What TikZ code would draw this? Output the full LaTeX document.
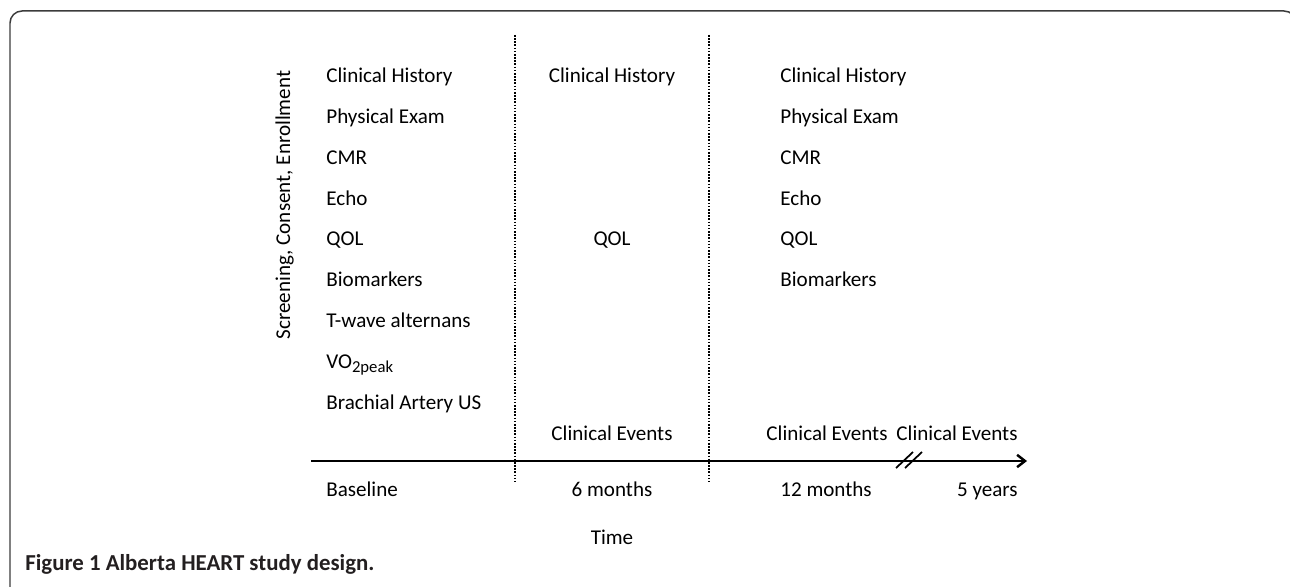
\documentclass[tikz,border=0pt]{standalone}
\usepackage{fontspec}
\setmainfont{Carlito}
\usepackage{xcolor}
\usetikzlibrary{arrows.meta}

\definecolor{framegray}{RGB}{60,60,60}
\definecolor{captiongray}{RGB}{35,31,32}

\begin{document}
\begin{tikzpicture}[x=0.02cm, y=-0.02cm, >={Straight Barb[length=4.5pt,width=7pt]}]
  \tikzset{
    entry/.style={anchor=base west, inner sep=0pt, font=\fontsize{12}{14}\selectfont},
    centry/.style={anchor=base, inner sep=0pt, font=\fontsize{12}{14}\selectfont},
    timeline/.style={line width=1.4pt},
    visit/.style={line width=1.2pt, dash pattern=on 0.9pt off 0.9pt},
  }
  \useasboundingbox (0,0) rectangle (1290,587);

  % Key positions
  \def\rowgap{40.75}
  \def\rowtop{83}
  \def\axisy{461}

  % Frame
  \draw[framegray, line width=0.85pt, rounded corners=12*0.02cm]
    (10,600) -- (10,11) -- (1296,11) -- (1296,600);

  % Visit separators
  \coordinate (sepa-top) at (515,35);
  \coordinate (sepa-bot) at (515,482);
  \coordinate (sepb-top) at (709,35);
  \coordinate (sepb-bot) at (709,482);
  \draw[visit] (sepa-top) -- (sepa-bot);
  \draw[visit] (sepb-top) -- (sepb-bot);

  % Time axis
  \coordinate (axis-start) at (311,\axisy);
  \coordinate (axis-end) at (1027,\axisy);
  \draw[timeline, ->] (axis-start) -- (axis-end);

  % Axis break
  \coordinate (brka-lo) at (896,468);
  \coordinate (brka-hi) at (913,452);
  \coordinate (brkb-lo) at (905,468);
  \coordinate (brkb-hi) at (922,452);
  \draw[line width=1pt] (brka-lo) -- (brka-hi);
  \draw[line width=1pt] (brkb-lo) -- (brkb-hi);

  % Rotated label
  \node[centry, rotate=90] (enrol) at (290,205) {Screening, Consent, Enrollment};

  % Baseline visit
  \foreach \txt [count=\i] in {Clinical History, Physical Exam, CMR, Echo, QOL,
      Biomarkers, T-wave alternans,
      {VO\raisebox{-0.4ex}{\fontsize{9.5}{10}\selectfont 2peak}}, Brachial Artery US}
    \node[entry] (base-\i) at (326, {\rowtop+\rowgap*(\i-1)}) {\txt};

  % 6 month visit
  \node[centry] (six-hist) at (612,\rowtop) {Clinical History};
  \node[centry] (six-qol) at (612,{\rowtop+4*\rowgap}) {QOL};
  \node[centry] (six-events) at (612,440) {Clinical Events};

  % 12 month visit
  \foreach \txt [count=\i] in {Clinical History, Physical Exam, CMR, Echo, QOL, Biomarkers}
    \node[entry] (twelve-\i) at (780, {\rowtop+\rowgap*(\i-1)}) {\txt};
  \node[centry] (twelve-events) at (827,440) {Clinical Events};

  % 5 year follow-up
  \node[centry] (five-events) at (957,440) {Clinical Events};

  % Time labels
  \node[entry] (t-base) at (326,496) {Baseline};
  \node[centry] (t-six) at (612,496) {6 months};
  \node[entry] (t-twelve) at (780,496) {12 months};
  \node[anchor=base east, inner sep=0pt, font=\fontsize{12}{14}\selectfont] (t-five) at (1018,496) {5 years};
  \node[centry] (t-axis) at (612,544) {Time};

  % Caption
  \node[anchor=base west, inner sep=0pt, text=captiongray,
    font=\fontsize{13}{15}\selectfont\bfseries] (caption) at (25,570)
    {Figure 1 Alberta HEART study design.};
\end{tikzpicture}
\end{document}
